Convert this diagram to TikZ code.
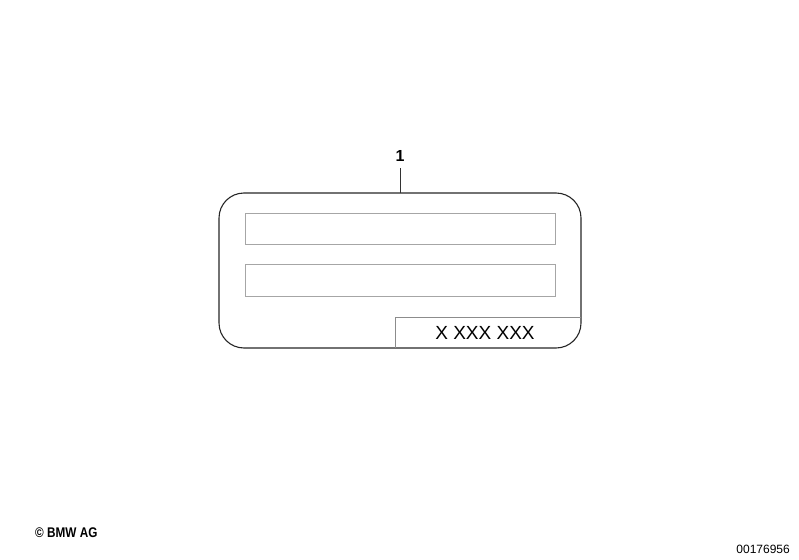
\documentclass[tikz,border=0pt]{standalone}
\usepackage{fontspec}
\setmainfont{Liberation Sans}
\begin{document}
\begin{tikzpicture}[x=1pt,y=-1pt,
  outer/.style={draw=black!85,line width=1.1pt,rounded corners=25pt},
  field/.style={draw=black!35,line width=0.8pt},
  thin/.style={draw=black!45,line width=0.8pt},
  lead/.style={draw=black!80,line width=0.9pt}]
\useasboundingbox (0,0) rectangle (799,559);
\node[draw=none,minimum width=362pt,minimum height=155pt,inner sep=0pt,outer sep=0pt] (label) at (400,270.5) {};
\draw[outer] (219,193) rectangle (581,348);
\node[field,minimum width=310pt,minimum height=31pt,inner sep=0pt] (f1) at (400,228.5) {};
\node[field,minimum width=310pt,minimum height=32pt,inner sep=0pt] (f2) at (400,280) {};
\coordinate (bl) at (395,348);
\coordinate (tl) at (395,317);
\coordinate (tr) at (581,317);
\draw[thin] (bl) -- (tl) -- (tr);
\node[font=\fontsize{19}{19}\selectfont] (num) at (485,332.5) {X XXX XXX};
\node[font=\fontsize{16}{16}\selectfont\bfseries] (one) at (400,156) {1};
\draw[lead] (one.south) ++(0,3) coordinate (ls) -- (label.north);
\node[font=\fontsize{14}{14}\selectfont\bfseries,anchor=west,inner sep=0pt] (copy) at (35,532.5) {\scalebox{0.84}[1]{© BMW AG}};
\node[font=\fontsize{12}{12}\selectfont,anchor=east,inner sep=0pt] (id) at (790,549) {00176956};
\end{tikzpicture}
\end{document}
